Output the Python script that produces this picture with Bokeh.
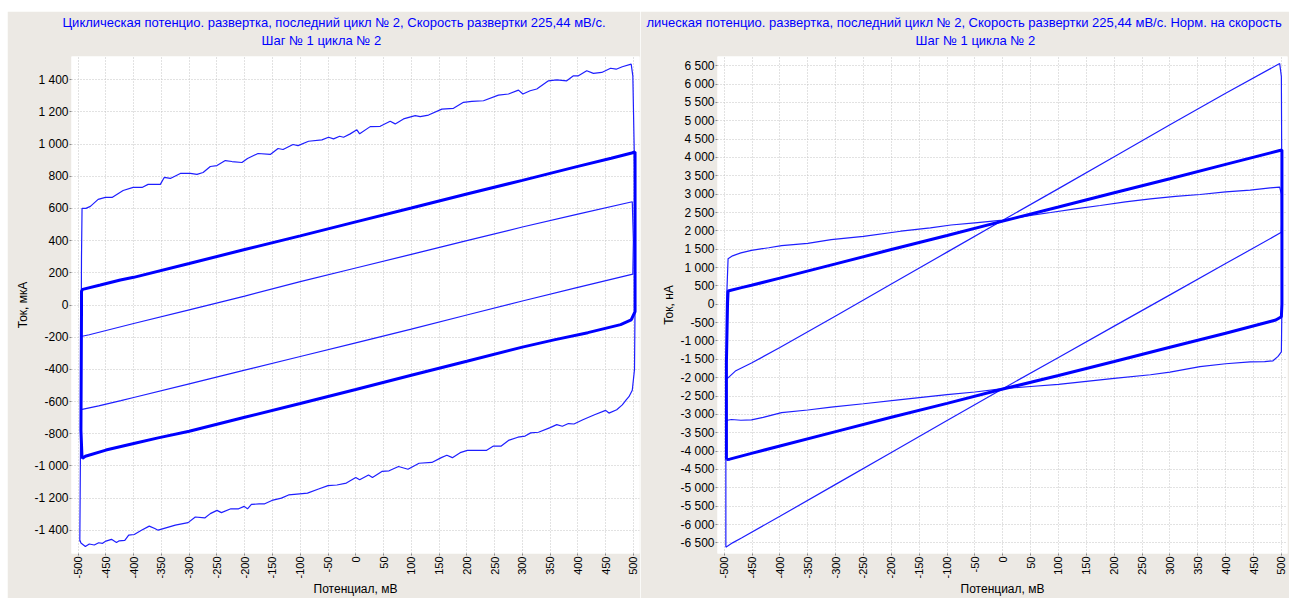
import math
from bokeh.plotting import figure
from bokeh.layouts import row
from bokeh.models import Range1d, FixedTicker, CustomJSTickFormatter, Title
from bokeh.embed import file_html
from bokeh.resources import INLINE

# ---------------- data ----------------
x_ticks = [-500, -450, -400, -350, -300, -250, -200, -150, -100, -50, 0,
           50, 100, 150, 200, 250, 300, 350, 400, 450, 500]
left_y_ticks = [-1400, -1200, -1000, -800, -600, -400, -200, 0,
                200, 400, 600, 800, 1000, 1200, 1400]
right_y_ticks = [-6500, -6000, -5500, -5000, -4500, -4000, -3500, -3000, -2500,
                 -2000, -1500, -1000, -500, 0, 500, 1000, 1500, 2000, 2500, 3000,
                 3500, 4000, 4500, 5000, 5500, 6000, 6500]

left_title_1 = "Циклическая потенцио. развертка, последний цикл № 2, Скорость развертки 225,44 мВ/с."
right_title_1 = "лическая потенцио. развертка, последний цикл № 2, Скорость развертки 225,44 мВ/с. Норм. на скорость"
title_2 = "Шаг № 1 цикла № 2"
x_label = "Потенциал, мВ"
left_y_label = "Ток, мкА"
right_y_label = "Ток, нА"

# left chart, outer thin loop (мкА)
left_outer_x = [-497, -495, -494, -493, -486, -478, -464, -451, -439, -419, -401, -385, -374, -352,
                -345, -334, -316, -298, -286, -275, -262, -250, -235, -223, -205, -195, -176, -154,
                -140, -131, -113, -104, -85, -61, -49, -40, -29, -22, -10, 2, 7, 26, 44, 62, 71,
                86, 107, 116, 131, 155, 176, 194, 209, 230, 257, 275, 293, 301, 314, 326, 347,
                362, 380, 392, 401, 416, 428, 443, 459, 469, 480, 496,
                499, 502, 503, 502, 498, 492, 487,
                480, 470, 456, 450, 430, 409, 393, 383, 372, 362, 349, 329, 315, 305, 292, 275,
                262, 248, 235, 201, 188, 174, 164, 154, 137, 114, 94, 77, 60, 47, 30, 23, 7, 0,
                -17, -34, -50, -67, -87, -101, -121, -134, -151, -164, -174, -188, -195, -201,
                -211, -225, -242, -250, -262, -272, -289, -302, -325, -342, -356, -362, -372,
                -386, -399, -409, -416, -426, -431, -440, -450, -456, -463, -471, -480, -487,
                -495, -497]
left_outer_y = [-1470, -500, 300, 601, 601, 613, 657, 669, 669, 712, 731, 731, 750, 750,
                793, 787, 818, 818, 812, 824, 861, 867, 898, 892, 886, 911, 942, 936,
                973, 967, 998, 991, 1018, 1027, 1043, 1033, 1049, 1043, 1064, 1089, 1064, 1109,
                1111, 1142, 1126, 1157, 1177, 1171, 1181, 1218, 1223, 1260, 1266, 1270, 1305,
                1312, 1336, 1312, 1332, 1343, 1394, 1400, 1394, 1425, 1425, 1456, 1440, 1446,
                1472, 1466, 1481, 1498,
                1425, 867, 0, -400, -530, -570, -590,
                -621, -651, -672, -655, -682, -713, -740, -737, -754, -744, -764, -791, -795,
                -815, -822, -842, -877, -877, -904, -904, -918, -949, -934, -949, -979, -984,
                -1021, -1004, -1031, -1035, -1072, -1057, -1086, -1072,
                -1107, -1119, -1123, -1144, -1170, -1174, -1181, -1201, -1215, -1236, -1236,
                -1240, -1267, -1252, -1267, -1267, -1291, -1277, -1297, -1324, -1318, -1353,
                -1369, -1386, -1400, -1390, -1375, -1400, -1427, -1431, -1464, -1466, -1476,
                -1457, -1468, -1482, -1478, -1492, -1486, -1502, -1480, -1461]

# left chart, thick loop
left_thick_x = [-493, -495, -494, -494, -492, -460, -424, -400, -300, -200, -100, 0, 100, 200,
                300, 400, 460, 497, 503, 503, 503,
                496, 477, 418, 357, 300, 200, 100, 0, -100, -200, -300, -356, -396, -450,
                -487, -493]
left_thick_y = [-955, -780, -40, 85, 97, 124, 155, 172, 258, 345, 430, 517, 603, 690,
                775, 862, 912, 945, 952, 500, -41,
                -93, -122, -172, -217, -262, -350, -437, -525, -612, -698, -785, -826, -858,
                -902, -940, -955]

# left chart, middle thin loop
left_mid_x = [-495, -495, -480, -400, -300, -200, -100, 0, 100, 200, 300, 400, 498, 500, 499,
              400, 300, 200, 100, 0, -100, -200, -300, -400, -423, -463, -495]
left_mid_y = [-650, -196, -185, -115, -30, 55, 145, 230, 315, 400, 485, 565, 642, 400, 192,
              110, 25, -62, -150, -235, -320, -405, -490, -575, -595, -627, -650]

# right chart (нА), steep thin loop
right_steep_x = [-497, -497, -480, -451, -400, -300, -200, -100, 0, 100, 200, 300, 400, 497,
                 500, 501, 500,
                 400, 300, 200, 100, 0, -100, -200, -300, -400, -469, -485, -497]
right_steep_y = [-6620, -2060, -1820, -1600, -1180, -320, 550, 1420, 2290, 3150, 4020, 4890,
                 5750, 6560, 6200, 2500, 1960,
                 1108, 256, -596, -1448, -2300, -3169, -4038, -4907, -5776, -6368, -6500,
                 -6620]

# right chart, thick loop
right_thick_x = [-496, -496, -494, -493, -469, -451, -400, -300, -200, -100, 0, 100, 200, 300,
                 400, 497, 501, 501, 500, 490, 480,
                 400, 300, 200, 100, 0, -100, -200, -300, -400, -451, -490, -496]
right_thick_y = [-4230, -1600, 0, 362, 454, 517, 712, 1100, 1490, 1875, 2265, 2650, 3040, 3420,
                 3810, 4190, 4200, 0, -340, -430, -470,
                 -790, -1170, -1560, -1940, -2310, -2700, -3080, -3470, -3860, -4063, -4220,
                 -4230]

# right chart, shallow thin loop
right_flat_x = [-496, -496, -493, -485, -470, -451, -420, -397, -350, -308, -250, -183, -130,
                -93, -50, 0, 50, 86, 130, 175, 220, 265, 310, 354, 400, 444, 480, 497,
                500, 501, 500, 494, 485, 470, 444, 400, 354, 300, 265, 200, 175, 100, 50, 0,
                -50, -100, -183, -250, -308, -350, -397, -430, -451, -470, -487, -494, -496]
right_flat_y = [-3180, 0, 1243, 1320, 1400, 1469, 1540, 1600, 1660, 1760, 1850, 1990, 2080,
                2160, 2220, 2290, 2420, 2500, 2600, 2690, 2790, 2870, 2940, 2990, 3060, 3110,
                3170, 3190, 3000, 0, -1300, -1420, -1540, -1560, -1570, -1620, -1700, -1850,
                -1920, -2020, -2060, -2180, -2240, -2300, -2390, -2460, -2600, -2710, -2800,
                -2880, -2950, -3080, -3150, -3160, -3140, -3160, -3180]

# ---------------- styling ----------------
BG = "#ece9e4"
BLUE = "#0000ff"
THIN = "#1e1eff"
FONT = "Liberation Sans"

fmt_code = r"""
const a = Math.abs(Math.round(tick));
const s = a.toString().replace(/\B(?=(\d{3})+(?!\d))/g, " ");
return (tick < 0 ? "-" : "") + s;
"""


def make_fig(width, bl, br, yr, yticks, ylabel, t1, t2, off1, off2, margin):
    p = figure(width=width, height=587, output_backend="svg", toolbar_location=None,
               x_range=Range1d(-512, 511), y_range=Range1d(yr[0], yr[1]),
               min_border_left=bl, min_border_right=br, min_border_top=45,
               min_border_bottom=44)
    p.margin = margin
    p.background_fill_color = "white"
    p.border_fill_color = BG
    p.outline_line_color = None

    p.add_layout(Title(text=t2, align="left", offset=off2, text_font=FONT,
                       text_font_size="13px", text_font_style="normal",
                       text_color=BLUE, standoff=17), "above")
    p.add_layout(Title(text=t1, align="left", offset=off1, text_font=FONT,
                       text_font_size="13px", text_font_style="normal",
                       text_color=BLUE, standoff=-15), "above")

    p.xaxis.ticker = FixedTicker(ticks=x_ticks)
    p.yaxis.ticker = FixedTicker(ticks=yticks)
    p.yaxis.formatter = CustomJSTickFormatter(code=fmt_code)
    p.xaxis.formatter = CustomJSTickFormatter(code=fmt_code)
    p.xaxis.major_label_orientation = math.pi / 2
    for ax in (p.xaxis, p.yaxis):
        ax.axis_line_color = None
        ax.minor_tick_line_color = None
        ax.major_tick_line_color = "#8a8a8a"
        ax.major_tick_out = 2
        ax.major_tick_in = 0
        ax.major_label_text_font = FONT
        ax.major_label_text_color = "black"
        ax.major_label_standoff = 1
        ax.axis_label_text_font = FONT
        ax.axis_label_text_font_size = "12px"
        ax.axis_label_text_font_style = "normal"
        ax.axis_label_text_color = "black"
        ax.axis_label_standoff = 1
    p.xaxis.axis_label_standoff = 0
    p.xaxis.major_label_text_font_size = "11px"
    p.yaxis.major_label_text_font_size = "12px"
    p.xaxis.axis_label = x_label
    p.yaxis.axis_label = ylabel
    p.grid.grid_line_color = "#c4c4c4"
    p.grid.grid_line_dash = "1 2"
    return p


p1 = make_fig(633, 64, 1, (-1545, 1545), left_y_ticks, left_y_label,
              left_title_1, title_2, -9, 190, (11, 0, 0, 7))
p1.line(left_outer_x, left_outer_y, color=THIN, line_width=1.2)
p1.line(left_mid_x, left_mid_y, color=THIN, line_width=1.2)
p1.line(left_thick_x, left_thick_y, color=BLUE, line_width=3)

p2 = make_fig(649, 77, 2, (-6790, 6750), right_y_ticks, right_y_label,
              right_title_1, title_2, -71, 198, (11, 0, 0, 0))
p2.line(right_steep_x, right_steep_y, color=THIN, line_width=1.2)
p2.line(right_flat_x, right_flat_y, color=THIN, line_width=1.2)
p2.line(right_thick_x, right_thick_y, color=BLUE, line_width=3)

layout = row(p1, p2)
open("out.html", "w").write(file_html(layout, INLINE))
